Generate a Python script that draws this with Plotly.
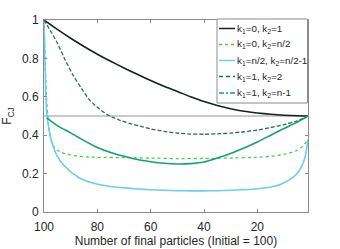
import plotly.graph_objects as go

# ---- data ----
x_black = [100, 95, 90, 85, 80, 75, 70, 65, 60, 55, 50, 45, 40, 35, 30, 25, 20, 15, 10, 5, 1]
y_black = [1.0, 0.951, 0.905, 0.862, 0.822, 0.785, 0.75, 0.717, 0.685, 0.655, 0.628, 0.600,
           0.575, 0.555, 0.538, 0.525, 0.516, 0.509, 0.504, 0.501, 0.5]

x_lime = [100, 99, 98, 97, 96, 95, 94, 92, 90, 87, 84, 80, 70, 60, 50, 40, 30, 20, 15, 10, 7, 5, 3, 2, 1]
y_lime = [1.0, 0.58, 0.42, 0.36, 0.335, 0.322, 0.314, 0.303, 0.297, 0.29, 0.287, 0.285, 0.283,
          0.281, 0.278, 0.279, 0.281, 0.285, 0.29, 0.3, 0.31, 0.322, 0.342, 0.358, 0.378]

x_cyan = [100, 99, 98, 97, 96, 95, 93, 91, 89, 87, 85, 82, 79, 75, 70, 65, 60, 55, 50, 45, 40,
          35, 30, 25, 20, 15, 12, 10, 8, 6, 5, 4, 3, 2, 1]
y_cyan = [1.0, 0.52, 0.42, 0.36, 0.32, 0.29, 0.25, 0.222, 0.198, 0.18, 0.167, 0.152, 0.142, 0.133,
          0.126, 0.12, 0.116, 0.113, 0.111, 0.11, 0.11, 0.111, 0.113, 0.116, 0.121, 0.13, 0.14,
          0.152, 0.167, 0.188, 0.202, 0.222, 0.25, 0.29, 0.378]

x_dash = [100, 97, 95, 92, 89, 86, 83, 80, 76, 72, 68, 64, 60, 55, 50, 45, 40, 35, 30, 25, 20, 15, 10, 5, 1]
y_dash = [1.0, 0.93, 0.88, 0.79, 0.71, 0.645, 0.585, 0.545, 0.505, 0.48, 0.462, 0.447, 0.433,
          0.42, 0.411, 0.406, 0.405, 0.407, 0.411, 0.418, 0.427, 0.44, 0.455, 0.475, 0.5]

x_dd = [99, 95, 90, 85, 80, 75, 70, 65, 60, 55, 50, 45, 40, 35, 30, 25, 20, 15, 10, 5, 1]
y_dd = [0.49, 0.45, 0.412, 0.372, 0.336, 0.31, 0.29, 0.273, 0.262, 0.254, 0.25, 0.252, 0.26,
        0.281, 0.305, 0.333, 0.365, 0.40, 0.435, 0.468, 0.5]

x_ref = [100, 1]
y_ref = [0.5, 0.5]

legend_labels = ["k<sub>1</sub>=0, k<sub>2</sub>=1",
                 "k<sub>1</sub>=0, k<sub>2</sub>=n/2",
                 "k<sub>1</sub>=n/2, k<sub>2</sub>=n/2-1",
                 "k<sub>1</sub>=1, k<sub>2</sub>=2",
                 "k<sub>1</sub>=1, k<sub>2</sub>=n-1"]

x_ticks = [100, 80, 60, 40, 20]
y_ticks = [0, 0.2, 0.4, 0.6, 0.8, 1]

# ---- styles ----
FONT = "Liberation Sans"
colors = ["#14231c", "#3ad63a", "#6ccdf0", "#2f6b55", "#15a070"]
plot_dash = ["solid", "dot", "solid", "4px,2px", "solid"]
leg_dash = ["solid", "dot", "solid", "4px,3px", "5px,2px,2px,2px"]
widths = [1.6, 1.3, 1.6, 1.3, 1.6]

series = [(x_black, y_black), (x_lime, y_lime), (x_cyan, y_cyan), (x_dash, y_dash), (x_dd, y_dd)]

fig = go.Figure()
fig.add_trace(go.Scatter(x=x_ref, y=y_ref, mode="lines",
                         line=dict(color="#b8b8b8", width=1.5), showlegend=False, hoverinfo="skip"))
for i, (xs, ys) in enumerate(series):
    fig.add_trace(go.Scatter(x=xs, y=ys, mode="lines", name=legend_labels[i],
                             line=dict(color=colors[i], width=widths[i], dash=plot_dash[i],
                                       shape="spline", smoothing=0.6),
                             showlegend=False))

W, H = 340, 249
ml, mr, mt, mb = 44, 32, 20, 37
pw, ph = W - ml - mr, H - mt - mb


def px2paper(px, py):
    return (px - ml) / pw, (H - mb - py) / ph


# custom legend box (MATLAB style)
bx0, by0 = px2paper(217, 19)
bx1, by1 = px2paper(307.5, 103)
fig.add_shape(type="rect", xref="paper", yref="paper", x0=bx0, y0=by1, x1=bx1, y1=by0,
              line=dict(color="#8c8c8c", width=1), fillcolor="white", layer="above")
rows = [28.5, 44.5, 60.5, 76.5, 93]
for i, py in enumerate(rows):
    lx0, ly = px2paper(219, py)
    lx1, _ = px2paper(235, py)
    fig.add_shape(type="line", xref="paper", yref="paper", x0=lx0, y0=ly, x1=lx1, y1=ly,
                  line=dict(color=colors[i], width=1.5, dash=leg_dash[i]), layer="above")
    tx, _ = px2paper(235.5, py)
    fig.add_annotation(xref="paper", yref="paper", x=tx, y=ly, text=legend_labels[i],
                       showarrow=False, xanchor="left", yanchor="middle", borderpad=0,
                       font=dict(size=9.8, color="#262626", family=FONT))

axis_common = dict(showline=True, linecolor="#8c8c8c", linewidth=1, mirror="ticks",
                   ticks="inside", ticklen=3, tickcolor="#8c8c8c", showgrid=False,
                   zeroline=False, automargin=False,
                   tickfont=dict(size=12, color="#262626", family=FONT))

fig.update_layout(
    width=W, height=H,
    margin=dict(l=ml, r=mr, t=mt, b=mb, pad=0),
    paper_bgcolor="white", plot_bgcolor="white",
    font=dict(family=FONT, size=12, color="#262626"),
    showlegend=False,
    xaxis=dict(range=[100, 1], tickvals=x_ticks, ticktext=[str(v) for v in x_ticks],
               ticklabelstandoff=4,
               title=dict(text="Number of final particles (Initial = 100)", standoff=0,
                          font=dict(size=12, family=FONT)),
               **axis_common),
    yaxis=dict(range=[0, 1], tickvals=y_ticks, ticktext=["0", "0.2", "0.4", "0.6", "0.8", "1"],
               ticklabelstandoff=2,
               title=dict(text="F<sub>CJ</sub>", standoff=7, font=dict(size=12, family=FONT)),
               **axis_common),
)

fig.write_html("out.html", config={"displayModeBar": False},
               post_script="document.body.style.margin='0';document.body.style.overflow='hidden';")
